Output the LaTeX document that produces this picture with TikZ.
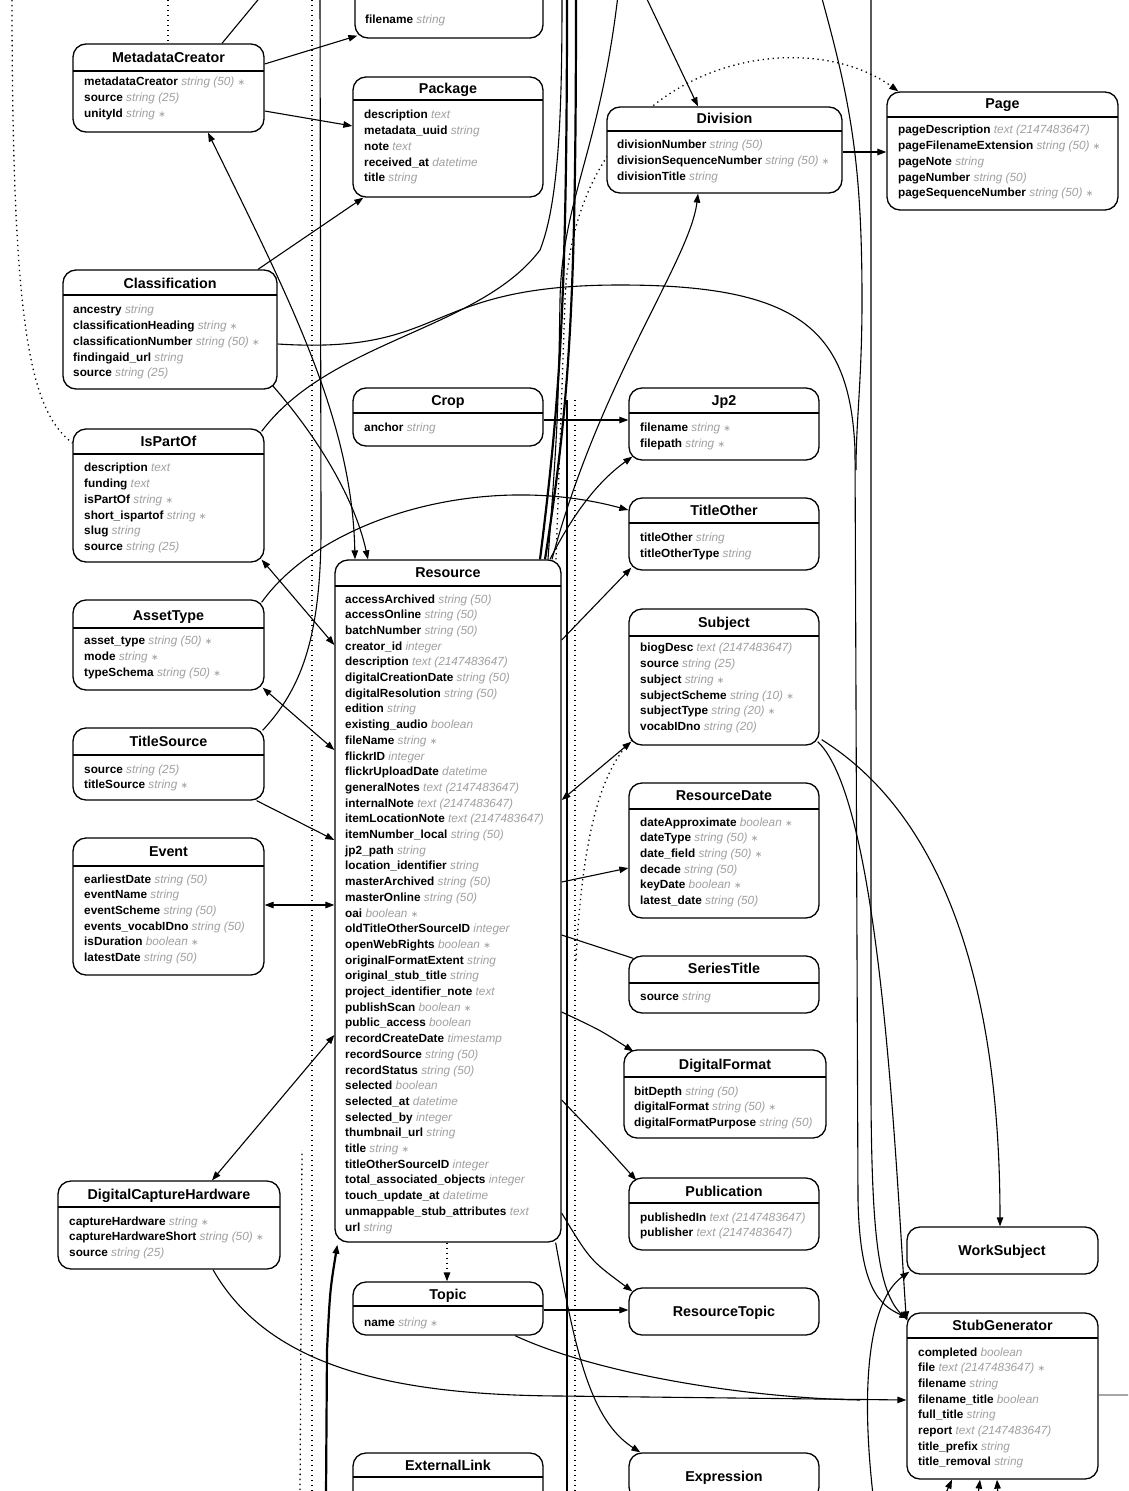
\documentclass[tikz,border=0pt]{standalone}
\usepackage{fontspec}
\setmainfont{Liberation Sans}
\newfontfamily\symf{DejaVu Sans}
\usetikzlibrary{arrows.meta,fit,calc}
\pgfdeclarelayer{bg}
\pgfdeclarelayer{edges}
\pgfsetlayers{bg,edges,main}
\definecolor{tgray}{HTML}{A0A0A0}
\newcommand{\fd}[2]{\textbf{#1}\ {\color{tgray}\itshape #2}}
\newcommand{\reqd}{\ {\symf\fontsize{9}{9}\selectfont ∗}}
\newcommand{\ent}[8]{%
  \node[ebox, fit={(#2,#3) (#4,#5)}] (#1) {};
  \draw[hline] (#2,#6) -- (#4,#6);
  \node[etitle] (#1-t) at ({(#2+#4)/2},{#7+5}) {#8};}
\newcommand{\flds}[4]{\node[efields] (#1-f) at ({#2},{#3-8.2}) {\strut #4};}
\begin{document}
\begin{tikzpicture}[x=1pt,y=-1pt,
  ebox/.style={draw, line width=1.3pt, rounded corners=13pt, inner sep=0pt, fill=white},
  hline/.style={line width=1.3pt},
  etitle/.style={anchor=base, inner sep=0pt, font=\fontsize{14.3}{16}\selectfont\bfseries},
  efields/.style={anchor=north west, align=left, inner sep=0pt, font=\fontsize{11.8}{15.7}\selectfont},
  rel/.style={line width=1.1pt},
  relb/.style={line width=2.2pt},
  reld/.style={line width=1.3pt, dash pattern=on 1.3pt off 3.7pt},
  relg/.style={line width=1.1pt, draw=black!35},
  >={Triangle[length=9pt,width=6.5pt]}]
\useasboundingbox (0,0) rectangle (1128,1491);
\begin{pgfonlayer}{bg}
\fill[white] (0,0) rectangle (1128,1491);
\end{pgfonlayer}

% ---------- entities ----------
\node[ebox, fit={(355,-80) (543,38)}] (topnode) {};
\flds{topnode}{365}{21}{\fd{filename}{string}}

\ent{MetadataCreator}{73}{44}{264}{132}{71}{57}{MetadataCreator}
\flds{MetadataCreator}{84}{83}{\fd{metadataCreator}{string (50)\reqd}\\\fd{source}{string (25)}\\\fd{unityId}{string\reqd}}

\ent{Package}{353}{77}{543}{197}{100}{88}{Package}
\flds{Package}{364}{116}{\fd{description}{text}\\\fd{metadata\_uuid}{string}\\\fd{note}{text}\\\fd{received\_at}{datetime}\\\fd{title}{string}}

\ent{Division}{607}{107}{842}{193}{131}{118}{Division}
\flds{Division}{617}{146}{\fd{divisionNumber}{string (50)}\\\fd{divisionSequenceNumber}{string (50)\reqd}\\\fd{divisionTitle}{string}}

\ent{Page}{887}{92}{1118}{210}{117}{103}{Page}
\flds{Page}{898}{131}{\fd{pageDescription}{text (2147483647)}\\\fd{pageFilenameExtension}{string (50)\reqd}\\\fd{pageNote}{string}\\\fd{pageNumber}{string (50)}\\\fd{pageSequenceNumber}{string (50)\reqd}}

\ent{Classification}{63}{270}{277}{389}{295}{283}{Classification}
\flds{Classification}{73}{311}{\fd{ancestry}{string}\\\fd{classificationHeading}{string\reqd}\\\fd{classificationNumber}{string (50)\reqd}\\\fd{findingaid\_url}{string}\\\fd{source}{string (25)}}

\ent{IsPartOf}{73}{429}{264}{562}{454}{441}{IsPartOf}
\flds{IsPartOf}{84}{469}{\fd{description}{text}\\\fd{funding}{text}\\\fd{isPartOf}{string\reqd}\\\fd{short\_ispartof}{string\reqd}\\\fd{slug}{string}\\\fd{source}{string (25)}}

\ent{Crop}{353}{388}{543}{446}{413}{400}{Crop}
\flds{Crop}{364}{429}{\fd{anchor}{string}}

\ent{Jp2}{629}{388}{819}{460}{413}{400}{Jp2}
\flds{Jp2}{640}{429}{\fd{filename}{string\reqd}\\\fd{filepath}{string\reqd}}

\ent{TitleOther}{629}{498}{819}{570}{523}{510}{TitleOther}
\flds{TitleOther}{640}{539}{\fd{titleOther}{string}\\\fd{titleOtherType}{string}}

\ent{Resource}{335}{560}{561}{1242}{586}{572}{Resource}
\flds{Resource}{345}{600}{\fd{accessArchived}{string (50)}\\\fd{accessOnline}{string (50)}\\\fd{batchNumber}{string (50)}\\\fd{creator\_id}{integer}\\\fd{description}{text (2147483647)}\\\fd{digitalCreationDate}{string (50)}\\\fd{digitalResolution}{string (50)}\\\fd{edition}{string}\\\fd{existing\_audio}{boolean}\\\fd{fileName}{string\reqd}\\\fd{flickrID}{integer}\\\fd{flickrUploadDate}{datetime}\\\fd{generalNotes}{text (2147483647)}\\\fd{internalNote}{text (2147483647)}\\\fd{itemLocationNote}{text (2147483647)}\\\fd{itemNumber\_local}{string (50)}\\\fd{jp2\_path}{string}\\\fd{location\_identifier}{string}\\\fd{masterArchived}{string (50)}\\\fd{masterOnline}{string (50)}\\\fd{oai}{boolean\reqd}\\\fd{oldTitleOtherSourceID}{integer}\\\fd{openWebRights}{boolean\reqd}\\\fd{originalFormatExtent}{string}\\\fd{original\_stub\_title}{string}\\\fd{project\_identifier\_note}{text}\\\fd{publishScan}{boolean\reqd}\\\fd{public\_access}{boolean}\\\fd{recordCreateDate}{timestamp}\\\fd{recordSource}{string (50)}\\\fd{recordStatus}{string (50)}\\\fd{selected}{boolean}\\\fd{selected\_at}{datetime}\\\fd{selected\_by}{integer}\\\fd{thumbnail\_url}{string}\\\fd{title}{string\reqd}\\\fd{titleOtherSourceID}{integer}\\\fd{total\_associated\_objects}{integer}\\\fd{touch\_update\_at}{datetime}\\\fd{unmappable\_stub\_attributes}{text}\\\fd{url}{string}}

\ent{AssetType}{73}{600}{264}{690}{628}{615}{AssetType}
\flds{AssetType}{84}{642}{\fd{asset\_type}{string (50)\reqd}\\\fd{mode}{string\reqd}\\\fd{typeSchema}{string (50)\reqd}}

\ent{TitleSource}{73}{728}{264}{800}{755}{741}{TitleSource}
\flds{TitleSource}{84}{770}{\fd{source}{string (25)}\\\fd{titleSource}{string\reqd}}

\ent{Event}{73}{838}{264}{975}{866}{851}{Event}
\flds{Event}{84}{880}{\fd{earliestDate}{string (50)}\\\fd{eventName}{string}\\\fd{eventScheme}{string (50)}\\\fd{events\_vocabIDno}{string (50)}\\\fd{isDuration}{boolean\reqd}\\\fd{latestDate}{string (50)}}

\ent{Subject}{629}{609}{819}{745}{636}{622}{Subject}
\flds{Subject}{640}{649}{\fd{biogDesc}{text (2147483647)}\\\fd{source}{string (25)}\\\fd{subject}{string\reqd}\\\fd{subjectScheme}{string (10)\reqd}\\\fd{subjectType}{string (20)\reqd}\\\fd{vocabIDno}{string (20)}}

\ent{ResourceDate}{629}{783}{819}{918}{809}{795}{ResourceDate}
\flds{ResourceDate}{640}{823}{\fd{dateApproximate}{boolean\reqd}\\\fd{dateType}{string (50)\reqd}\\\fd{date\_field}{string (50)\reqd}\\\fd{decade}{string (50)}\\\fd{keyDate}{boolean\reqd}\\\fd{latest\_date}{string (50)}}

\ent{SeriesTitle}{629}{956}{819}{1013}{983}{968}{SeriesTitle}
\flds{SeriesTitle}{640}{997}{\fd{source}{string}}

\ent{DigitalFormat}{624}{1050}{826}{1138}{1077}{1064}{DigitalFormat}
\flds{DigitalFormat}{634}{1092}{\fd{bitDepth}{string (50)}\\\fd{digitalFormat}{string (50)\reqd}\\\fd{digitalFormatPurpose}{string (50)}}

\ent{Publication}{629}{1178}{819}{1250}{1203}{1191}{Publication}
\flds{Publication}{640}{1218}{\fd{publishedIn}{text (2147483647)}\\\fd{publisher}{text (2147483647)}}

\ent{DigitalCaptureHardware}{58}{1181}{280}{1269}{1207}{1194}{DigitalCaptureHardware}
\flds{DigitalCaptureHardware}{69}{1222}{\fd{captureHardware}{string\reqd}\\\fd{captureHardwareShort}{string (50)\reqd}\\\fd{source}{string (25)}}

\ent{Topic}{353}{1282}{543}{1335}{1306}{1294}{Topic}
\flds{Topic}{364}{1323}{\fd{name}{string\reqd}}

\ent{ExternalLink}{353}{1453}{543}{1560}{1477}{1465}{ExternalLink}

\ent{StubGenerator}{907}{1313}{1098}{1479}{1338}{1325}{StubGenerator}
\flds{StubGenerator}{918}{1353}{\fd{completed}{boolean}\\\fd{file}{text (2147483647)\reqd}\\\fd{filename}{string}\\\fd{filename\_title}{boolean}\\\fd{full\_title}{string}\\\fd{report}{text (2147483647)}\\\fd{title\_prefix}{string}\\\fd{title\_removal}{string}}

\node[ebox, fit={(629,1288) (819,1335)}] (ResourceTopic) {};
\node[etitle] (ResourceTopic-t) at (724,1316) {ResourceTopic};
\node[ebox, fit={(907,1227) (1098,1274)}] (WorkSubject) {};
\node[etitle] (WorkSubject-t) at (1002,1255) {WorkSubject};
\node[ebox, fit={(629,1453) (819,1500)}] (Expression) {};
\node[etitle] (Expression-t) at (724,1481) {Expression};

% off-image ends
\coordinate (oMC) at (262,-5);
\coordinate (oDotA) at (168,-5);
\coordinate (oLeft) at (12,-5);
\coordinate (oDiv) at (645,-5);
\coordinate (oT1) at (567,-5);
\coordinate (oT2) at (576,-5);
\coordinate (oT3) at (618,-5);
\coordinate (oT4) at (562,-5);
\coordinate (oR1) at (821,-5);
\coordinate (oR2) at (871,-5);
\coordinate (oCol1) at (320,-5);
\coordinate (oCol2) at (312,-5);
\coordinate (oBot1) at (326,1495);
\coordinate (oBot2) at (300,1495);
\coordinate (oBot3) at (312,1495);
\coordinate (oBot4) at (575,1495);
\coordinate (oBot6) at (567,1495);
\coordinate (oBot5) at (873,1495);
\coordinate (oSG1) at (945,1495);
\coordinate (oSG2) at (978,1495);
\coordinate (oSG3) at (998,1495);
\coordinate (oSGr) at (1130,1395);

% ---------- connectors ----------
\begin{pgfonlayer}{edges}
\begin{scope}
\clip (0,0) rectangle (1128,1491);
% top-left
\draw[rel,->] (MetadataCreator.east |- 0,64) -- ($(topnode.south west)+(3,-3)$);
\draw[rel,->] (MetadataCreator.east |- 0,111) -- (Package.west |- 0,126);
\draw[rel] (222,0 |- MetadataCreator.north) -- (oMC);
\draw[reld] (oDotA) -- (168,0 |- MetadataCreator.north);
\draw[reld] (oLeft) .. controls (12,330) and (30,410) .. (IsPartOf.west |- 0,443);
\draw[rel,<->] (208,0 |- MetadataCreator.south) .. controls (290,300) and (352,420) .. (355,0 |- Resource.north);
\draw[rel,->] (258,0 |- Classification.north) -- ($(Package.south west)+(11,0)$);
\draw[rel,->] ($(Classification.south east)+(-5,-4)$) .. controls (320,440) and (355,500) .. (368,0 |- Resource.north);
\draw[rel,->] (Classification.east |- 0,344) .. controls (450,355) and (420,285) .. (620,285) .. controls (800,285) and (850,330) .. (855,450) -- (858,1200) .. controls (860,1290) and (880,1305) .. ($(StubGenerator.north west)+(2,6)$);
\draw[rel] ($(IsPartOf.north east)+(-3,3)$) .. controls (330,340) and (480,330) .. (540,250) .. controls (560,200) and (562,100) .. (oT4);
% left column lines
\draw[rel] (oCol1) -- (321,520) .. controls (322,640) and (300,690) .. ($(TitleSource.north east)+(-2,3)$);
\draw[reld] (oCol2) -- (oBot3);
\draw[reld] (oBot2) -- (302,1150);
\draw[relb,->] (oBot1) -- (327,1350) .. controls (330,1290) .. ($(Resource.south west)+(3,2)$);
% left entities to Resource
\draw[rel,<->] ($(IsPartOf.south east)+(-3,-3)$) -- (Resource.west |- 0,645);
\draw[rel,<->] ($(AssetType.south east)+(-2,-3)$) -- (Resource.west |- 0,750);
\draw[rel,->] ($(TitleSource.south east)+(-8,0)$) -- (Resource.west |- 0,840);
\draw[rel,<->] (Event.east |- 0,905) -- (Resource.west |- 0,905);
\draw[rel,<->] (212,0 |- DigitalCaptureHardware.north) -- (Resource.west |- 0,1035);
\draw[rel,->] ($(AssetType.north east)+(-3,3)$) .. controls (320,520) and (480,470) .. (TitleOther.west |- 0,510);
% Resource to the right
\draw[rel,->] (550,0 |- Resource.north) .. controls (575,510) and (600,480) .. ($(Jp2.south west)+(4,-4)$);
\draw[rel,->] (Resource.east |- 0,640) -- ($(TitleOther.south west)+(3,-3)$);
\draw[rel,<->] (Resource.east |- 0,800) -- ($(Subject.south west)+(3,-4)$);
\draw[reld] (576,960) .. controls (582,840) and (600,770) .. ($(Subject.south west)+(4,-6)$);
\draw[rel,->] (Resource.east |- 0,882) -- (ResourceDate.west |- 0,868);
\draw[rel] (Resource.east |- 0,935) -- ($(SeriesTitle.north west)+(5,3)$);
\draw[rel,->] (Resource.east |- 0,1012) .. controls (600,1030) .. ($(DigitalFormat.north west)+(10,2)$);
\draw[rel,->] (Resource.east |- 0,1100) .. controls (600,1140) .. ($(Publication.north west)+(8,3)$);
\draw[rel,->] (Resource.east |- 0,1213) .. controls (590,1260) .. ($(ResourceTopic.north west)+(4,4)$);
\draw[reld,->] (447,0 |- Resource.south) -- (447,0 |- Topic.north);
\draw[rel,->] (Topic.east |- 0,1310) -- (ResourceTopic.west |- 0,1310);
\draw[rel,->] (Crop.east |- 0,420) -- (Jp2.west |- 0,420);
\draw[rel,->] ($(Resource.south east)+(-6,0)$) .. controls (575,1350) and (590,1420) .. ($(Expression.north west)+(12,0)$);
% upper middle
\draw[rel,->] (Division.east |- 0,152) -- (Page.west |- 0,152);
\draw[reld,->] (556,0 |- Resource.north) -- (565,300) .. controls (575,60) and (800,20) .. ($(Page.north west)+(12,0)$);
\draw[rel,->] (oDiv) -- (698,0 |- Division.north);
\draw[rel,->] (552,0 |- Resource.north) .. controls (600,380) and (690,260) .. (698,0 |- Division.south);
\draw[relb] (540,0 |- Resource.north) .. controls (560,400) and (567,300) .. (oT1);
\draw[relb] (545,0 |- Resource.north) .. controls (570,400) and (576,300) .. (oT2);
\draw[rel] (oT3) .. controls (600,150) and (562,200) .. (560,300) .. controls (558,420) .. (548,0 |- Resource.north);
% columns right of Resource
\draw[rel] (567,400) -- (oBot6);
\draw[reld] (575,400) -- (oBot4);
% bottom
\draw[rel,->] (213,0 |- DigitalCaptureHardware.south) .. controls (270,1370) and (400,1395) .. (560,1396) -- (StubGenerator.west |- 0,1400);
\draw[rel] (515,0 |- Topic.south) .. controls (600,1375) and (750,1398) .. (860,1400);
% right side
\draw[rel,->] ($(Subject.south east)+(-2,-4)$) .. controls (880,800) and (895,1150) .. ($(StubGenerator.north west)+(0,8)$);
\draw[rel,->] ($(Subject.south east)+(2,-6)$) .. controls (950,820) and (1000,1000) .. (1000,0 |- WorkSubject.north);
\draw[rel] (oR1) .. controls (850,100) and (862,160) .. (862,300) .. controls (862,380) and (856,420) .. (856,470);
\draw[rel] (oR2) -- (871,1100) .. controls (872,1250) and (880,1300) .. ($(StubGenerator.north west)+(1,7)$);
\draw[rel,->] (oBot5) .. controls (860,1380) and (870,1300) .. ($(WorkSubject.south west)+(3,-3)$);
\draw[rel,->] (oSG1) -- (952,0 |- StubGenerator.south);
\draw[rel,->] (oSG2) -- (980,0 |- StubGenerator.south);
\draw[rel,->] (oSG3) -- (997,0 |- StubGenerator.south);
\draw[relg] (StubGenerator.east |- 0,1395) -- (oSGr);
\end{scope}
\end{pgfonlayer}
\end{tikzpicture}
\end{document}
